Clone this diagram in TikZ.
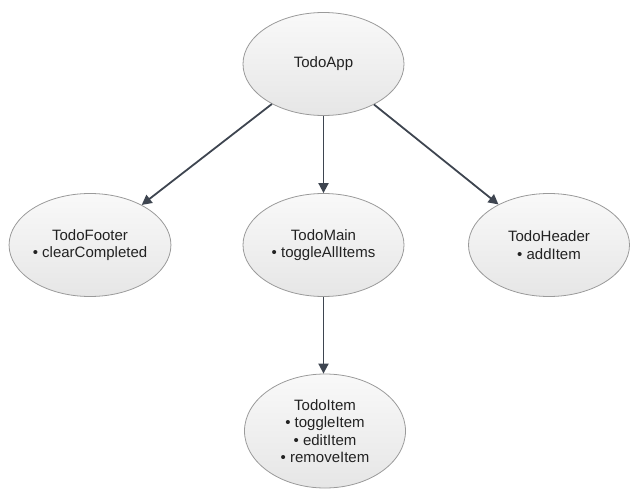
\documentclass[tikz,border=0pt]{standalone}
\usepackage{fontspec}
\setmainfont{Liberation Sans}
\usetikzlibrary{shapes.geometric,arrows.meta}
\definecolor{edgegray}{HTML}{9A9A9A}
\definecolor{arrowcol}{HTML}{3E4550}
\definecolor{txtcol}{HTML}{222222}
\definecolor{filltop}{HTML}{F9F9F9}
\definecolor{fillbot}{HTML}{E6E6E6}
\tikzset{
  comp/.style={ellipse, draw=edgegray, line width=0.8pt, top color=filltop, bottom color=fillbot,
    minimum width=161pt, minimum height=103pt, inner sep=0pt, align=center,
    font=\fontsize{15pt}{17.4pt}\selectfont, text=txtcol},
  link/.style={draw=arrowcol, line width=1.8pt, -{Triangle[length=10pt,width=10pt]}}
}
\begin{document}
\begin{tikzpicture}[x=1pt,y=-1pt]
\useasboundingbox (0,0) rectangle (638,490);
\node[comp] (app) at (323.5,64) {TodoApp};
\node[comp] (footer) at (90,245) {TodoFooter\\ • clearCompleted};
\node[comp] (main) at (323.5,245) {TodoMain\\ • toggleAllItems};
\node[comp] (header) at (549,245) {TodoHeader\\ • addItem};
\node[comp, minimum height=114pt] (item) at (325,431) {TodoItem\\ • toggleItem\\ • editItem\\ • removeItem};
\draw[link] (app) -- (footer);
\draw[link] (app) -- (main);
\draw[link] (app) -- (header);
\draw[link] (main) -- (main.south |- item.north);
\end{tikzpicture}
\end{document}
